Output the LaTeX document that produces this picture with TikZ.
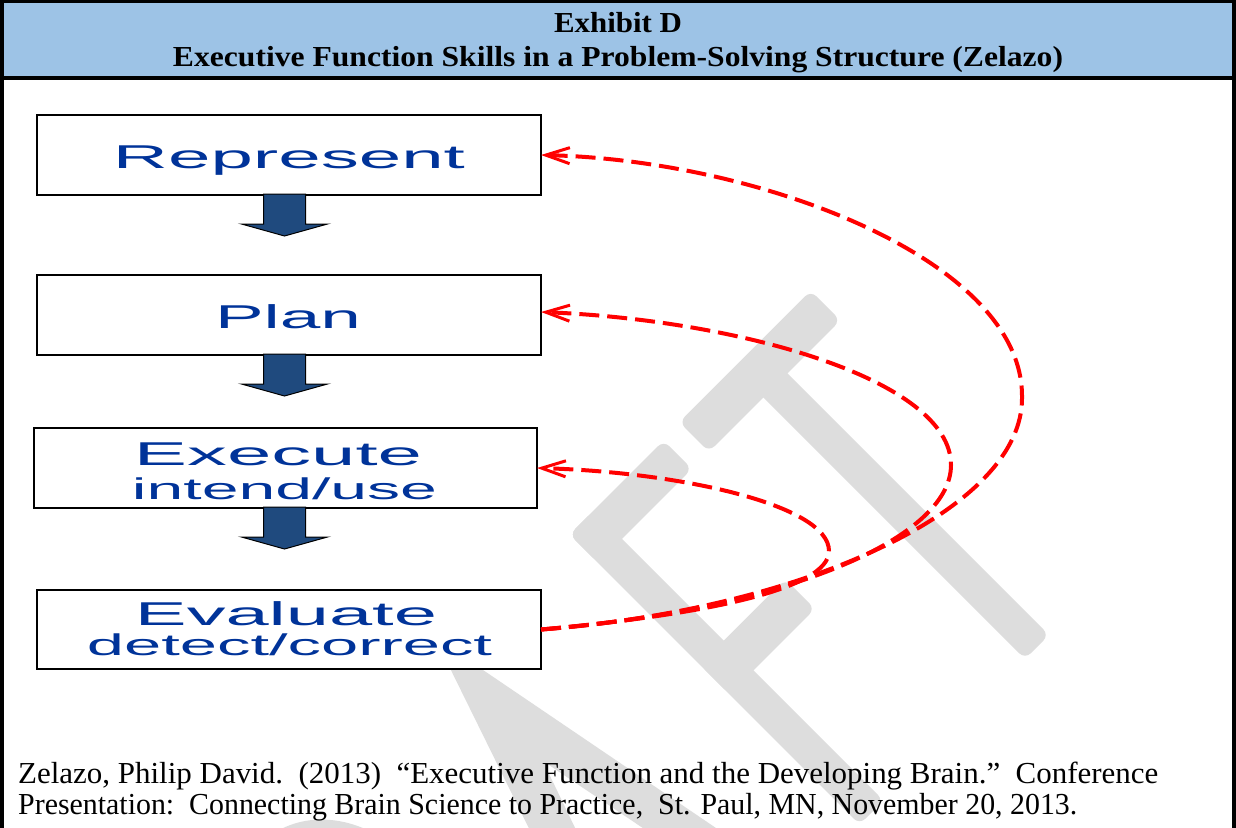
\documentclass[tikz,border=0pt]{standalone}
\usepackage{fontspec}
\setmainfont{Liberation Serif}
\newfontfamily\arialf{Liberation Sans}
\usetikzlibrary{arrows.meta}
\definecolor{hdrblue}{HTML}{9DC3E6}
\definecolor{txtblue}{HTML}{003399}
\definecolor{arrblue}{HTML}{1F4A7E}
\definecolor{wmgray}{HTML}{DDDDDD}
\tikzset{
  box/.style={draw=black, line width=2pt, fill=white, minimum width=504pt, minimum height=80pt, inner sep=0pt, outer sep=0pt},
  bigtxt/.style={font=\arialf\fontsize{33}{33}\selectfont, text=txtblue, anchor=base, inner sep=0pt},
  smalltxt/.style={font=\arialf\fontsize{30}{30}\selectfont, text=txtblue, anchor=base, inner sep=0pt},
  barrow/.style={fill=arrblue, draw=black, line width=1pt, line join=miter},
  fb/.style={draw=red, line width=4pt, dash pattern=on 20pt off 8pt, -{Straight Barb[length=24pt,width=16pt,line width=3pt]}},
  wm/.style={fill=wmgray, rounded corners=8pt},
  wmline/.style={draw=wmgray, line width=38pt, line join=round},
  hdr/.style={anchor=base, font=\bfseries\fontsize{29}{29}\selectfont, inner sep=0pt},
  cite/.style={anchor=base west, font=\fontsize{30.5}{30.5}\selectfont, inner sep=0pt},
}
\begin{document}
\begin{tikzpicture}[x=1pt,y=1pt]
\useasboundingbox (0,0) rectangle (1236,-827);
\fill[white] (0,0) rectangle (1236,-827);
% watermark
\begin{scope}[shift={(1037,-647)}, rotate=45]
  \fill[wm] (-94,370) rectangle (92,412);
  \fill[wm] (-17,0) rectangle (17,391);
  \fill[wm] (-251,0) rectangle (-217,410);
  \fill[wm] (-251,370) rectangle (-118,410);
  \fill[wm] (-251,184) rectangle (-130,226);
  \fill[wm] (-566,0) -- (-426,412) -- (-415,412) -- (-336,0) -- (-377,0) -- (-430,269) -- (-524,0) -- cycle;
  \fill[wm] (-495,95) -- (-392,95) -- (-400,135) -- (-480,135) -- cycle;
  \fill[wm] (-790,0) rectangle (-752,410);
  \draw[wmline] (-771,391) -- (-690,391) to[out=0,in=90] (-614,300) to[out=-90,in=0] (-690,215) -- (-771,215);
  \draw[wmline] (-700,215) -- (-600,19);
\end{scope}
% header
\fill[hdrblue] (2,-1.5) rectangle (1234,-78);
\draw[line width=3.5pt] (2,-830) -- (2,-1.5) -- (1234,-1.5) -- (1234,-830);
\draw[line width=3.5pt] (2,-78) -- (1234,-78);
\node[hdr] (t1) at (618,-33) {\resizebox{128pt}{\height}{Exhibit D}};
\node[hdr] (t2) at (618,-66) {\resizebox{890pt}{\height}{Executive Function Skills in a Problem-Solving Structure (Zelazo)}};
% boxes
\node[box] (rep) at (289,-155) {};
\node[box] (plan) at (289,-315) {};
\node[box, minimum width=503pt] (exec) at (285.5,-468) {};
\node[box, minimum height=79pt] (eval) at (289,-629.5) {};
\node[bigtxt] (repT) at (289,-168.5) {\resizebox{352pt}{\height}{Represent}};
\node[bigtxt] (planT) at (288,-328.5) {\resizebox{146pt}{\height}{Plan}};
\node[bigtxt] (execT) at (278,-465) {\resizebox{288pt}{\height}{Execute}};
\node[smalltxt] (execS) at (284.5,-499.5) {\resizebox{305pt}{\height}{intend/use}};
\node[bigtxt] (evalT) at (286,-625) {\resizebox{302pt}{\height}{Evaluate}};
\node[smalltxt] (evalS) at (289.5,-655) {\resizebox{405pt}{\height}{detect/correct}};
% block arrows
\coordinate (ax) at (284.5,0);
\draw[barrow, shift={(rep.south -| ax)}] (-21,1) -- (-21,-29) -- (-43,-29) -- (0,-41) -- (43,-29) -- (21,-29) -- (21,1) -- cycle;
\draw[barrow, shift={(plan.south -| ax)}] (-21,1) -- (-21,-29) -- (-43,-29) -- (0,-41) -- (43,-29) -- (21,-29) -- (21,1) -- cycle;
\draw[barrow, shift={(exec.south -| ax)}] (-21,1) -- (-21,-29) -- (-43,-29) -- (0,-41) -- (43,-29) -- (21,-29) -- (21,1) -- cycle;
% feedback curves
\draw[fb] (eval.east) .. controls (800,-610) and (1025,-510) .. (1022,-396) .. controls (1022,-260) and (760,-160) .. (rep.east);
\draw[fb] (eval.east) .. controls (780,-610) and (951,-540) .. (951,-465) .. controls (951,-380) and (740,-320) .. ([yshift=3pt]plan.east);
\draw[fb] (eval.east) .. controls (700,-615) and (829,-590) .. (829,-551) .. controls (829,-505) and (680,-472) .. (exec.east);
% citation
\node[cite] (c1) at (18,-783.5) {\resizebox{1140pt}{\height}{Zelazo, Philip David.\ \ (2013)\ \ “Executive Function and the Developing Brain.”\ \ Conference}};
\node[cite] (c2) at (18,-814) {\resizebox{1059pt}{\height}{Presentation:\ \ Connecting Brain Science to Practice,\ \ St. Paul, MN, November 20, 2013.}};
\end{tikzpicture}
\end{document}
